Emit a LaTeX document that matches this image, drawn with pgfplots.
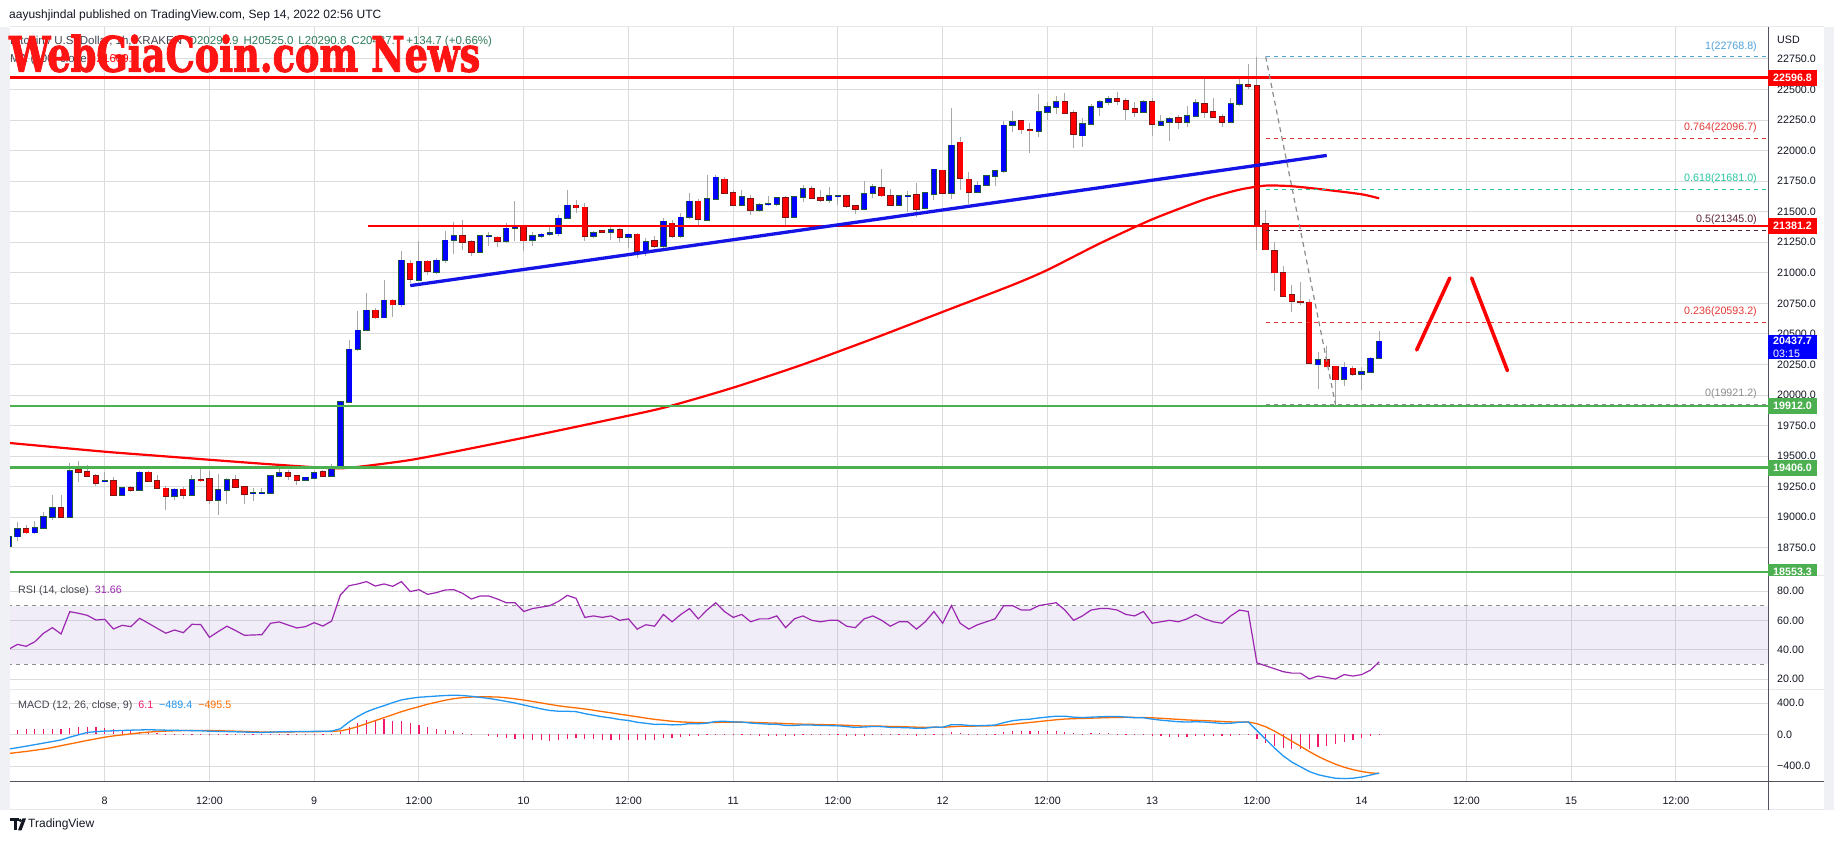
\documentclass[border=0pt]{standalone}
\usepackage{pgfplots}
\pgfplotsset{compat=1.18}
\usepackage{pgfplotstable}
\usepackage{graphicx}
\usepackage{fontspec}
\setmainfont{Liberation Sans}
\newfontfamily\wmfont[FakeBold=2.2]{DejaVu Serif}
\definecolor{gridc}{HTML}{DCDCDC}
\definecolor{txt}{HTML}{131722}
\definecolor{upfill}{HTML}{0000FF}
\definecolor{upedge}{HTML}{1E5B3A}
\definecolor{dnfill}{HTML}{FF0000}
\definecolor{dnedge}{HTML}{7A1616}
\definecolor{wick}{HTML}{A8A8A8}
\definecolor{trgreen}{HTML}{4CAF50}
\definecolor{trred}{HTML}{FF0000}
\definecolor{trblue}{HTML}{1414E6}
\definecolor{rsic}{HTML}{9C27B0}
\definecolor{rsiband}{HTML}{7E57C2}
\definecolor{macdc}{HTML}{2196F3}
\definecolor{sigc}{HTML}{FF6D00}
\definecolor{histc}{HTML}{F0196E}
\definecolor{fibone}{HTML}{4FA3DC}
\definecolor{fibred}{HTML}{E53935}
\definecolor{fibteal}{HTML}{26C6A0}
\definecolor{fibhalf}{HTML}{5A2238}
\definecolor{fibgray}{HTML}{8C8C8C}
\definecolor{boxred}{HTML}{FF0000}
\definecolor{boxgreen}{HTML}{4CAF50}
\definecolor{boxblue}{HTML}{0000FF}
\definecolor{axdark}{HTML}{50535E}
\definecolor{framec}{HTML}{E6E8EE}
\definecolor{wmred}{HTML}{FF1414}
\definecolor{ohlcg}{HTML}{2E7D5B}
\newcommand\lbl{\fontsize{10.7}{12.5}\selectfont}
\newcommand\lblb{\fontsize{10.7}{12.5}\selectfont\bfseries}

\pgfplotstableread{
t o hi lo c
-11 18764 18850 18740 18840
-10 18840 18957 18804 18905
-8 18873 18973 18862 18913
-7 18913 19039 18908 19003
-6 19003 19183 18976 19077
-4 19003 19447 19003 19379
0 19293 19371 19290 19297
2 19180 19249 19175 19240
4 19221 19377 19213 19366
8 19170 19235 19140 19227
10 19180 19349 19175 19306
13 19140 19355 19017 19224
14 19224 19317 19104 19306
17 19193 19240 19131 19197
18 19197 19235 19189 19201
19 19197 19344 19189 19339
20 19339 19437 19333 19363
23 19306 19330 19295 19325
24 19322 19374 19317 19363
26 19339 19439 19330 19399
27 19399 19950 19399 19943
28 19943 20453 19943 20374
29 20374 20689 20356 20529
30 20529 20835 20520 20693
32 20633 20941 20630 20775
34 20739 21179 20723 21102
36 20938 21260 20935 21094
38 21004 21124 20988 21102
39 21102 21342 21078 21266
40 21266 21413 21151 21299
43 21168 21307 21159 21299
44 21297 21334 21222 21301
46 21258 21405 21241 21364
47 21364 21588 21263 21372
49 21266 21334 21217 21299
50 21299 21326 21288 21315
51 21315 21375 21304 21326
52 21320 21473 21304 21446
53 21446 21678 21441 21552
56 21299 21340 21282 21329
58 21331 21375 21271 21350
60 21290 21326 21206 21315
62 21176 21282 21140 21250
64 21217 21449 21200 21421
66 21299 21490 21285 21454
67 21454 21656 21441 21585
69 21432 21800 21426 21602
70 21602 21798 21597 21781
73 21554 21681 21545 21619
75 21513 21570 21497 21556
76 21557 21630 21545 21561
77 21559 21616 21545 21610
79 21456 21632 21450 21619
80 21619 21722 21578 21684
83 21594 21703 21572 21627
84 21628 21632 21551 21631
87 21521 21749 21516 21643
88 21651 21724 21613 21700
91 21554 21640 21548 21627
92 21629 21673 21497 21632
94 21529 21651 21524 21651
95 21643 21847 21592 21847
97 21651 22346 21600 22042
100 21659 21749 21654 21716
101 21716 21803 21711 21792
102 21792 21844 21714 21833
103 21830 22243 21820 22205
104 22205 22321 22148 22232
107 22156 22460 22110 22319
108 22317 22399 22254 22355
109 22355 22445 22295 22399
112 22121 22263 22031 22216
113 22216 22382 22205 22358
114 22358 22410 22282 22399
115 22399 22450 22369 22423
119 22317 22412 22309 22401
121 22208 22287 22200 22235
122 22235 22276 22077 22260
124 22235 22363 22192 22282
125 22282 22418 22273 22391
129 22235 22431 22230 22382
130 22382 22587 22363 22538
139 20248 20348 20049 20286
142 20130 20267 20076 20226
144 20169 20226 20043 20190
145 20185 20307 20180 20299
146 20299.9 20525.0 20290.8 20437.7
}\upC

\pgfplotstableread{
t o hi lo c
-9 18905 18933 18862 18873
-5 19077 19183 19003 19003
-3 19390 19456 19289 19371
-2 19371 19428 19325 19336
-1 19339 19355 19254 19279
1 19298 19325 19172 19180
3 19240 19257 19205 19221
5 19366 19377 19289 19298
6 19298 19349 19230 19235
7 19235 19257 19063 19172
9 19227 19249 19148 19180
11 19308 19398 19284 19303
12 19314 19377 19112 19140
15 19306 19349 19240 19249
16 19249 19257 19104 19189
21 19363 19385 19303 19339
22 19339 19344 19262 19306
25 19371 19390 19330 19339
31 20693 20715 20622 20633
33 20775 20783 20636 20739
35 21078 21102 20917 20947
37 21094 21102 20982 21012
41 21299 21432 21187 21250
42 21250 21266 21140 21168
45 21290 21304 21209 21258
48 21372 21391 21181 21263
54 21552 21593 21490 21533
55 21536 21568 21263 21299
57 21342 21345 21326 21331
59 21350 21370 21249 21290
61 21315 21326 21124 21176
63 21260 21301 21200 21217
65 21405 21430 21285 21299
68 21585 21600 21381 21438
71 21765 21781 21646 21651
72 21656 21681 21551 21554
74 21602 21638 21470 21513
78 21610 21632 21375 21456
81 21684 21706 21602 21613
82 21613 21678 21578 21594
85 21627 21632 21532 21545
86 21545 21556 21480 21521
89 21692 21849 21619 21632
90 21632 21684 21551 21554
93 21635 21733 21456 21521
96 21838 21840 21648 21651
98 22066 22107 21681 21773
99 21765 21825 21564 21659
105 22240 22248 22134 22172
106 22167 22227 21982 22162
110 22399 22472 22295 22309
111 22309 22331 22023 22137
116 22423 22478 22374 22404
117 22407 22431 22254 22339
118 22339 22401 22273 22314
120 22399 22431 22118 22216
123 22268 22290 22173 22233
126 22382 22589 22263 22317
127 22317 22431 22265 22276
128 22276 22303 22194 22235
131 22536 22712 22505 22530
132 22527 22769 21187 21391
133 21402 21511 21187 21190
134 21182 21250 20847 21002
135 21002 21057 20803 20811
136 20822 20898 20680 20765
137 20765 20926 20735 20760
138 20757 20784 20253 20261
140 20286 20403 20226 20231
141 20234 20239 19921 20125
143 20218 20239 20158 20171
}\dnC

\pgfplotstableread{
t p
-11 19608
0 19536
6 19503
12 19470
18 19438
24 19409
27 19400
30 19420
35 19468
40 19535
48 19650
56 19770
64 19895
72 20060
80 20250
88 20460
96 20680
104 20900
108 21023
114 21240
120 21437
126 21600
130 21680
133 21713
136 21708
140 21678
144 21642
146 21609
}\maC

\pgfplotstableread{
t rsi macd sig hist
-11 40.2 -185 -241 56
-10 43.6 -167 -228 61
-9 42.3 -148 -215 67
-8 45.4 -129 -200 71
-7 51.2 -109 -185 76
-6 55.0 -89 -165 76
-5 50.7 -69 -142 73
-4 65.9 -34 -120 86
-3 64.8 -4 -98 94
-2 63.4 26 -75 101
-1 60.2 36 -55 91
0 60.7 43 -34 77
1 54.1 47 -18 65
2 56.6 51 -5 56
3 55.7 55 8 47
4 61.4 58 20 38
5 58.0 60 30 30
6 54.6 58 38 20
7 51.2 55 43 12
8 53.4 53 47 6
9 51.6 51 50 1
10 57.3 49 52 -3
11 57.1 47 52 -5
12 48.4 42 50 -8
13 52.3 39 48 -9
14 56.0 37 45 -8
15 53.0 34 42 -8
16 49.8 31 39 -8
17 50.0 28 35 -7
18 50.2 26 32 -6
19 58.0 30 31 -1
20 58.9 34 32 2
21 56.8 36 33 3
22 54.8 37 34 3
23 55.7 38 35 3
24 58.4 40 36 4
25 56.1 41 37 4
26 59.5 43 39 4
27 77.3 73 46 30
28 83.6 160 69 100
29 84.8 230 101 140
30 86.4 288 138 180
31 83.4 330 177 178
32 84.8 366 214 198
33 83.2 405 252 172
34 86.4 439 290 170
35 79.6 458 323 146
36 80.9 473 353 116
37 77.7 480 385 95
38 78.9 488 410 65
39 80.7 495 435 52
40 80.9 499 455 40
41 78.4 495 468 25
42 74.5 485 475 2
43 76.6 472 478 0
44 76.6 458 478 -20
45 74.5 440 476 -35
46 72 420 466 -46
47 72 400 453 -53
48 66 375 437 -62
49 68 350 420 -70
50 69 325 401 -76
51 70 305 382 -77
52 73 295 364 -69
53 77 295 350 -55
54 75 290 338 -48
55 62 265 324 -59
56 63 245 308 -63
57 62 225 291 -66
58 63 210 275 -65
59 60 190 258 -68
60 61 178 242 -64
61 54 155 225 -70
62 57 142 208 -66
63 56 128 192 -64
64 64 130 180 -50
65 59 122 168 -46
66 64 125 160 -35
67 68 138 155 -17
68 61 135 151 -16
69 67 145 150 -5
70 72 165 153 12
71 66 168 156 12
72 62 160 157 3
73 64 158 157 1
74 59 145 155 -10
75 61 138 151 -13
76 61 132 147 -15
77 63 130 144 -14
78 55 115 138 -23
79 61 115 134 -19
80 63 122 131 -9
81 60 120 129 -9
82 59 115 126 -11
83 60 113 124 -11
84 60 110 121 -11
85 56 100 117 -17
86 55 90 111 -21
87 61 95 108 -13
88 63 102 107 -5
89 60 100 106 -6
90 56 90 102 -12
91 59 88 100 -12
92 59 86 97 -11
93 54 78 93 -15
94 59 80 90 -10
95 66 95 91 4
96 58 92 91 1
97 70 125 98 27
98 58 125 104 21
99 54 115 106 9
100 57 112 107 5
101 59 115 109 6
102 61 120 111 9
103 70 150 119 31
104 70 175 130 45
105 67 188 142 46
106 67 195 152 43
107 70 210 164 46
108 71 222 176 46
109 72 232 187 45
110 67 232 196 36
111 60 220 201 19
112 63 215 204 11
113 67 220 207 13
114 68 225 211 14
115 68 228 214 14
116 67 228 217 11
117 64 222 218 4
118 63 213 217 -4
119 66 212 216 -4
120 58 195 212 -17
121 59 182 206 -24
122 60 172 199 -27
123 59 162 192 -30
124 61 158 185 -27
125 64 162 180 -18
126 61 158 176 -18
127 59 150 171 -21
128 58 140 165 -25
129 63 143 160 -17
130 67 155 159 -4
131 66 160 159 1
132 31 50 137 -60
133 29 -60 98 -110
134 27 -170 44 -150
135 25 -270 -19 -175
136 24 -350 -85 -185
137 24 -410 -150 -182
138 20 -470 -216 -178
139 22 -510 -277 -163
140 21 -535 -330 -143
141 20 -555 -377 -125
142 23 -560 -416 -100
143 22 -555 -446 -76
144 23 -540 -470 -49
145 26 -515 -487 -20
146 31.66 -489.4 -495.5 6.1
}\ind

\pgfplotsset{
  pane/.style={
    scale only axis, width=1758pt, xmin=-10.85, xmax=190.55,
    axis line style={draw=none}, major tick length=0pt,
    xtick={0,12,...,180}, grid=major, grid style={gridc, line width=0.9pt},
    yticklabel pos=right, scaled y ticks=false, scaled x ticks=false,
    yticklabel style={anchor=west, inner sep=0pt, xshift=9pt, font=\lbl, text=txt},
    /pgf/number format/assume math mode=true,
    clip=true,
  },
  nox/.style={xticklabel={\phantom{0}}},
  wickst/.style={draw=none, forget plot, error bars/.cd, y dir=plus, y explicit, error mark=none,
    error bar style={draw=wick, line width=1pt, solid}},
  bodyst/.style 2 args={draw=none, forget plot, error bars/.cd, y dir=plus, y explicit, error mark=none,
    error bar style={draw=#1, line width=#2, solid}},
}

\begin{document}
\begin{tikzpicture}[x=1pt,y=1pt]
\path[use as bounding box] (0,0) rectangle (1834,845);
\fill[white] (0,0) rectangle (1834,845);
\fill[framec!60] (0,35) rectangle (10,818);
\fill[framec!60] (1824,35) rectangle (1834,818);

% ---------------- main price pane
\begin{axis}[pane, nox, at={(10pt,269pt)}, anchor=south west, height=549pt,
  ymin=18519, ymax=23011, ytick={18750,19000,...,22750},
  yticklabel={\pgfmathprintnumber[fixed,fixed zerofill,precision=1,1000 sep={}]{\tick}}]
  % wicks
  \addplot[wickst] table[x=t, y=lo, y error plus expr=\thisrow{hi}-\thisrow{lo}] {\upC};
  \addplot[wickst] table[x=t, y=lo, y error plus expr=\thisrow{hi}-\thisrow{lo}] {\dnC};
  % bodies
  \addplot[bodyst={upedge}{6.4pt}] table[x=t, y expr=\thisrow{o}-6, y error plus expr=\thisrow{c}-\thisrow{o}+12] {\upC};
  \addplot[bodyst={upfill}{4.8pt}] table[x=t, y=o, y error plus expr=\thisrow{c}-\thisrow{o}] {\upC};
  \addplot[bodyst={dnedge}{6.4pt}] table[x=t, y expr=\thisrow{c}-6, y error plus expr=\thisrow{o}-\thisrow{c}+12] {\dnC};
  \addplot[bodyst={dnfill}{4.8pt}] table[x=t, y=c, y error plus expr=\thisrow{o}-\thisrow{c}] {\dnC};
  % moving average
  \addplot[trred, line width=2.2pt, smooth, tension=0.4] table[x=t, y=p] {\maC};
  % horizontal levels
  \addplot[trred, line width=2.6pt] coordinates {(-12,22596.8) (192,22596.8)};
  \addplot[trred, line width=2.6pt] coordinates {(30.2,21381.2) (192,21381.2)};
  \addplot[trgreen, line width=2.4pt] coordinates {(-12,19912.0) (192,19912.0)};
  \addplot[trgreen, line width=2.4pt] coordinates {(-12,19406.0) (192,19406.0)};
  \addplot[trgreen, line width=2.4pt] coordinates {(-12,18553.3) (192,18553.3)};
  % trend line
  \addplot[trblue, line width=3.3pt] coordinates {(35,20895) (140,21960)};
  % fib retracement
  \addplot[fibone, line width=1pt, dash pattern=on 4pt off 4pt] coordinates {(133,22768.8) (192,22768.8)};
  \addplot[fibred, line width=1pt, dash pattern=on 4pt off 4pt] coordinates {(133,22096.7) (192,22096.7)};
  \addplot[fibteal, line width=1pt, dash pattern=on 4pt off 4pt] coordinates {(133,21681.0) (192,21681.0)};
  \addplot[fibhalf, line width=1pt, dash pattern=on 4pt off 4pt] coordinates {(133,21345.0) (192,21345.0)};
  \addplot[fibred, line width=1pt, dash pattern=on 4pt off 4pt] coordinates {(133,20593.2) (192,20593.2)};
  \addplot[fibgray, line width=1pt, dash pattern=on 4pt off 4pt] coordinates {(133,19921.2) (192,19921.2)};
  \addplot[fibgray, line width=1.2pt, dash pattern=on 5pt off 4pt] coordinates {(133,22768.8) (141,19921.2)};
  % projected path
  \addplot[trred, line width=3.6pt, line cap=round] coordinates {(150.3,20368) (154.1,20957)};
  \addplot[trred, line width=3.6pt, line cap=round] coordinates {(156.6,20957) (160.7,20199)};
\end{axis}

% ---------------- RSI pane
\begin{axis}[pane, nox, at={(10pt,155pt)}, anchor=south west, height=114pt,
  ymin=12.5, ymax=90.23, ytick={20,40,60,80},
  yticklabel={\pgfmathprintnumber[fixed,fixed zerofill,precision=2]{\tick}}]
  \addplot[draw=none, fill=rsiband, fill opacity=0.11] coordinates {(-12,30) (192,30) (192,70) (-12,70)} -- cycle;
  \addplot[fibgray, line width=0.9pt, dash pattern=on 4pt off 4pt] coordinates {(-12,70) (192,70)};
  \addplot[fibgray, line width=0.9pt, dash pattern=on 4pt off 4pt] coordinates {(-12,30) (192,30)};
  \addplot[rsic, line width=1.2pt] table[x=t, y=rsi] {\ind};
\end{axis}

% ---------------- MACD pane
\begin{axis}[pane, at={(10pt,63pt)}, anchor=south west, height=92pt,
  ymin=-603, ymax=565, ytick={-400,0,400}, yticklabels={−400.0,0.0,400.0},
  xticklabels={8,12:00,9,12:00,10,12:00,11,12:00,12,12:00,13,12:00,14,12:00,15,12:00},
  xticklabel style={anchor=center, yshift=-19pt, font=\lbl, text=txt}]
  \addplot[ycomb, histc, line width=1.2pt, mark=none] table[x=t, y=hist] {\ind};
  \addplot[sigc, line width=1.3pt] table[x=t, y=sig] {\ind};
  \addplot[macdc, line width=1.3pt] table[x=t, y=macd] {\ind};
\end{axis}

% ---------------- frame and separators
\draw[framec, line width=1pt] (10,818) -- (1824,818);
\draw[framec, line width=1pt] (1768,269) -- (1824,269);
\draw[framec, line width=1pt] (10,155) -- (1824,155);
\draw[framec, line width=1pt] (10,35) -- (1824,35);
\draw[axdark, line width=1pt] (10,63) -- (1824,63);
\draw[axdark, line width=1pt] (1768,35) -- (1768,818);

% ---------------- right-hand labels
\node[anchor=west, inner sep=0pt, font=\lbl, text=txt] at (1777,805) {USD};
\foreach \yy/\txt/\cc in {767.4/22596.8/boxred, 618.8/21381.2/boxred, 439.2/19912.0/boxgreen, 377.4/19406.0/boxgreen}
  \node[anchor=west, fill=\cc, text=white, font=\lblb, inner xsep=5pt, inner ysep=0pt, minimum height=16pt] at (1768,\yy) {\txt};
\begin{scope}
  \clip (1768,269) rectangle (1834,300);
  \node[anchor=west, fill=boxgreen, text=white, font=\lblb, inner xsep=5pt, inner ysep=0pt, minimum height=16pt] at (1768,273.2) {18553.3};
\end{scope}
\node[anchor=north west, fill=boxblue, text=white, font=\lbl, align=left, inner xsep=5pt, inner ysep=2pt] at (1768,510) {\textbf{20437.7}\\03:15};

% fib labels
\node[anchor=east, inner sep=0pt, font=\lbl, text=fibone] at (1757,798.3) {1(22768.8)};
\node[anchor=east, inner sep=0pt, font=\lbl, text=fibred] at (1757,717) {0.764(22096.7)};
\node[anchor=east, inner sep=0pt, font=\lbl, text=fibteal] at (1757,666) {0.618(21681.0)};
\node[anchor=east, inner sep=0pt, font=\lbl, text=fibhalf] at (1757,625) {0.5(21345.0)};
\node[anchor=east, inner sep=0pt, font=\lbl, text=fibred] at (1757,533) {0.236(20593.2)};
\node[anchor=east, inner sep=0pt, font=\lbl, text=fibgray] at (1757,451) {0(19921.2)};

% indicator titles
\node[anchor=west, inner sep=0pt, font=\lbl, text=txt!80] at (18,254) {RSI (14, close)\hspace{6pt}\textcolor{rsic}{31.66}};
\node[anchor=west, inner sep=0pt, font=\lbl, text=txt!80] at (18,139) {MACD (12, 26, close, 9)\hspace{6pt}\textcolor{histc}{6.1}\hspace{6pt}\textcolor{macdc}{−489.4}\hspace{6pt}\textcolor{sigc}{−495.5}};

% header texts
\node[anchor=west, inner sep=0pt, font=\fontsize{12}{14}\selectfont, text=txt] at (9,830) {aayushjindal published on TradingView.com, Sep 14, 2022 02:56 UTC};
\node[anchor=west, inner sep=0pt, font=\fontsize{11.5}{13}\selectfont, text=txt!80] at (10,803) {Bitcoin / U.S. Dollar, 1h, KRAKEN\hspace{6pt}\textcolor{ohlcg}{O20299.9\hspace{5pt}H20525.0\hspace{5pt}L20290.8\hspace{5pt}C20437.7\hspace{5pt}+134.7 (+0.66\%)}};
\node[anchor=west, inner sep=0pt, font=\fontsize{11.5}{13}\selectfont, text=txt!80] at (10,785) {MA (100, close)\hspace{6pt}\textcolor{trred}{21609.5}};
% watermark
\node[anchor=west, inner sep=0pt, text=wmred] at (9,791.5) {\resizebox{471pt}{37pt}{\wmfont\bfseries WebGiaCoin.com News}};

% TradingView logo
\fill[txt] (10,23.5) rectangle (18.5,26.5);
\fill[txt] (13.5,14.5) rectangle (16.5,26.5);
\fill[txt] (20.3,24.6) circle (1.7);
\fill[txt] (22.5,26.5) -- (26,26.5) -- (21.5,14.5) -- (18,14.5) -- cycle;
\node[anchor=west, inner sep=0pt, font=\fontsize{12}{14}\selectfont, text=txt] at (28,20.5) {TradingView};
\end{tikzpicture}
\end{document}
